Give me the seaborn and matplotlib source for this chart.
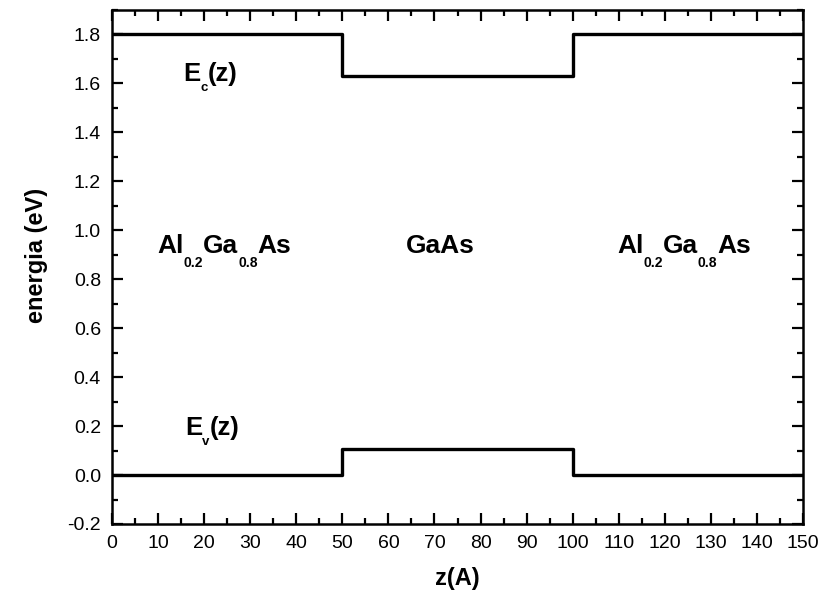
import matplotlib
matplotlib.use("Agg")
import matplotlib.pyplot as plt
import seaborn as sns
import pandas as pd
from matplotlib.ticker import MultipleLocator

z = [0, 50, 100, 150]
ec = [1.80, 1.63, 1.80, 1.80]
ev = [0.0, 0.105, 0.0, 0.0]
xticks = list(range(0, 151, 10))
yticks = [-0.2, 0.0, 0.2, 0.4, 0.6, 0.8, 1.0, 1.2, 1.4, 1.6, 1.8]

sns.set_theme(style="ticks")
plt.rcParams['font.family'] = ['Liberation Sans', 'DejaVu Sans']

fig = plt.figure(figsize=(8.22, 6.0), dpi=100)
ax = fig.add_axes([0.1363, 0.1267, 0.8406, 0.8566])

df = pd.DataFrame({"z": z + z, "E": ec + ev, "band": ["c"] * 4 + ["v"] * 4})
for b in ["c", "v"]:
    sns.lineplot(data=df[df.band == b], x="z", y="E", ax=ax, color="black",
                 linewidth=2.4, drawstyle="steps-post", estimator=None, sort=False,
                 legend=False)

ax.set_xlim(0, 150)
ax.set_ylim(-0.2, 1.9)
ax.set_xticks(xticks)
ax.set_xticklabels([str(t) for t in xticks])
ax.set_yticks(yticks)
ax.set_yticklabels([f"{t:.1f}" for t in yticks])
ax.xaxis.set_minor_locator(MultipleLocator(5))
ax.yaxis.set_minor_locator(MultipleLocator(0.1))
ax.tick_params(which="both", direction="in", top=True, right=True, width=1.6, color="black")
ax.tick_params(which="major", length=8, labelsize=14, labelcolor="black")
ax.tick_params(axis="x", which="major", pad=8)
ax.tick_params(axis="y", which="major", pad=8)
ax.tick_params(which="minor", length=4.5)
for s in ax.spines.values():
    s.set_linewidth(1.8)
    s.set_color("black")

ax.set_xlabel("z(A)", fontsize=17, fontweight="bold", labelpad=11, color="black")
ax.set_ylabel("energia (eV)", fontsize=17, fontweight="bold", labelpad=14, color="black", y=0.523)


def chem(x, y, parts, size, subsize, sub_off, ha="left"):
    t0 = ax.text(x, y, parts[0][0], fontsize=size, fontweight="bold", va="baseline",
                 ha="left", color="black")
    prev = t0
    for txt, sub in parts[1:]:
        if sub:
            a = ax.annotate(txt, xy=(1, 0), xycoords=(prev, t0), xytext=(0, -sub_off),
                            textcoords="offset points", fontsize=subsize,
                            fontweight="bold", va="center", ha="left", color="black")
        else:
            a = ax.annotate(txt, xy=(1, 0), xycoords=(prev, t0), fontsize=size,
                            fontweight="bold", va="bottom", ha="left", color="black")
        prev = a
    return t0


alga = [("Al", False), ("0.2", True), ("Ga", False), ("0.8", True), ("As", False)]
chem(15.4, 1.611, [("E", False), ("c", True), ("(z)", False)], 18.5, 9.5, 1.8)
chem(15.8, 0.164, [("E", False), ("v", True), ("(z)", False)], 18.5, 9.5, 1.8)
chem(9.8, 0.906, alga, 19, 10, 3.2)
chem(109.6, 0.906, alga, 19, 10, 3.2)
ax.text(71.2, 0.906, "GaAs", fontsize=19, fontweight="bold", va="baseline", ha="center",
        color="black")

fig.savefig("out.png", dpi=100)
